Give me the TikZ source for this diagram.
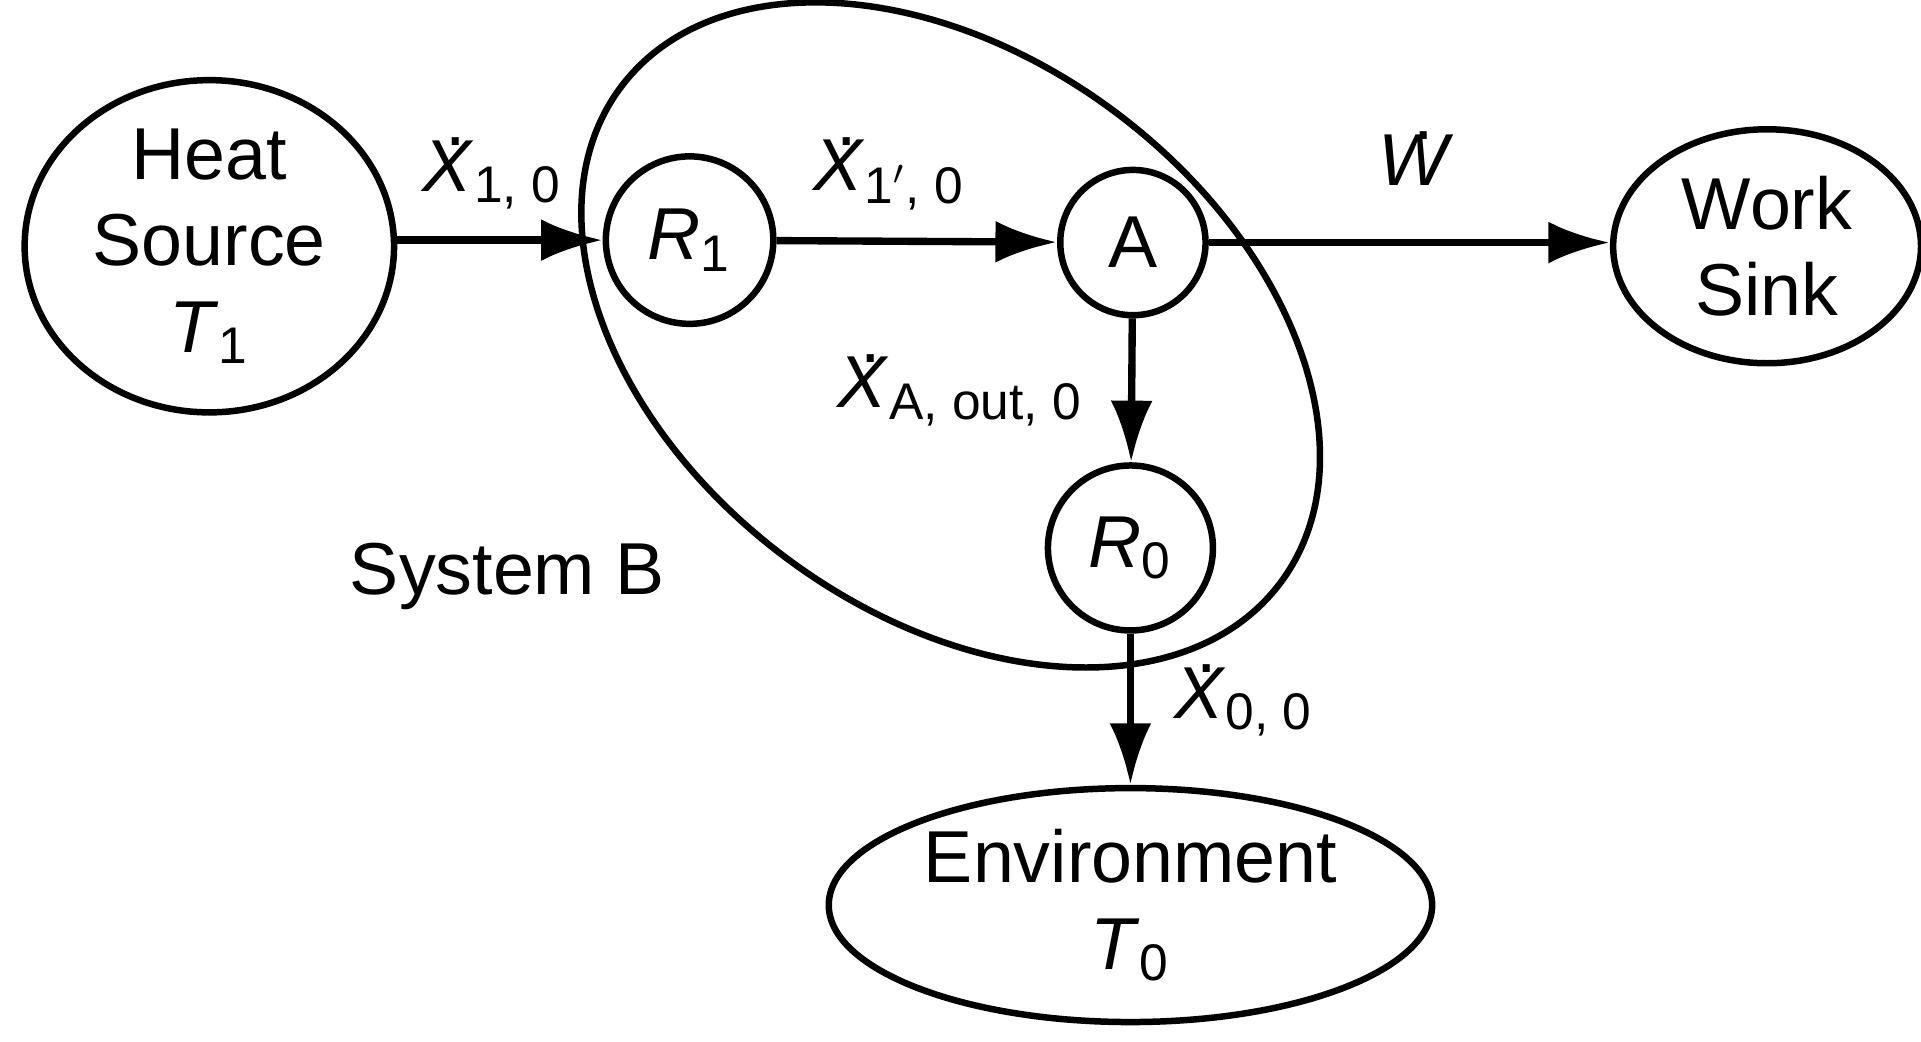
\documentclass[tikz,border=0pt]{standalone}
\usepackage{fontspec}
\setmainfont{Liberation Sans}
\usetikzlibrary{shapes.geometric,arrows.meta}
\newcommand{\dotit}[1]{\leavevmode\hbox{\ooalign{\textit{#1}\cr\hidewidth\kern0.2em\raisebox{0.62em}{.}\hidewidth\cr}}}
\newcommand{\xd}{\dotit{X}}
\begin{document}
\begin{tikzpicture}[x=0.1mm,y=-0.1mm,line width=1.5pt,
  font=\fontsize{17}{20}\selectfont,
  el/.style={draw,ellipse,align=center,inner sep=0pt},
  cr/.style={draw,circle,inner sep=0pt},
  fl/.style={-{Latex[length=5mm,width=3.4mm]},line width=1.7pt}]
\useasboundingbox (0,0) rectangle (1560,846);
\node[el,minimum width=30mm,minimum height=26mm] (hs) at (170,200) {Heat\\Source\\\textit{T}\textsubscript{1}};
\node[cr,minimum size=13.6mm] (r1) at (560,195) {\textit{R}\textsubscript{1}};
\node[cr,minimum size=11.8mm] (a) at (920,197) {A};
\node[el,minimum width=25mm,minimum height=19mm] (ws) at (1435,200) {Work\\Sink};
\node[cr,minimum size=13.4mm] (r0) at (918,445) {\textit{R}\textsubscript{0}};
\node[el,minimum width=49mm,minimum height=19mm] (env) at (918,735) {Environment\\\textit{T}\textsubscript{0}};
\draw[rotate around={-37:(772,272)}] (772,272) ellipse [x radius=335,y radius=225];
\draw[fl] (hs.east|-r1) -- (r1);
\draw[fl] (r1) -- (a);
\draw[fl] (a) -- (ws.west|-a);
\draw[fl] (a) -- (r0);
\draw[fl] (r0) -- (env);
\node (l1) at (400,142) {\xd\textsubscript{1, 0}};
\node (l2) at (722,142) {\xd\textsubscript{1$'$, 0}};
\node (l3) at (1150,130) {\dotit{W}};
\node (l4) at (780,318) {\xd\textsubscript{A, out, 0}};
\node (l5) at (1010,570) {\xd\textsubscript{0, 0}};
\node (sb) at (412,468) {System B};
\end{tikzpicture}
\end{document}
